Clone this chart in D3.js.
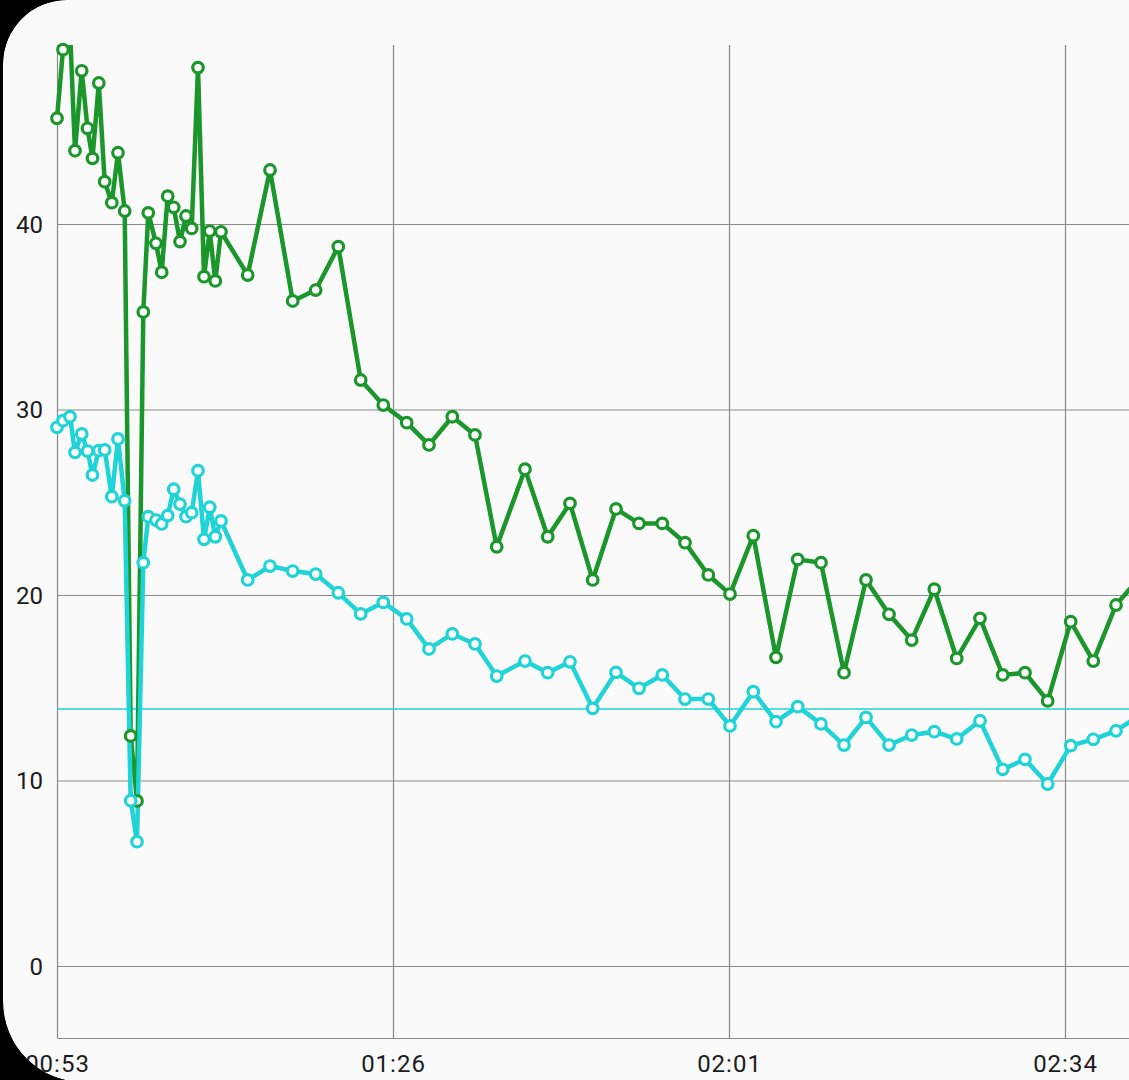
<!DOCTYPE html>
<html>
<head>
<meta charset="utf-8">
<script src="https://cdn.jsdelivr.net/npm/d3@7/dist/d3.min.js"></script>
<style>
  html, body { margin: 0; padding: 0; background: #000; overflow: hidden; }
  svg { display: block; }
  text { font-family: Roboto, "Noto Sans", sans-serif; }
</style>
</head>
<body>
<svg id="chart" width="1129" height="1080"></svg>
<script>
// ---- data (minutes since 00:53) ----
const times = [0, 0.6, 1.3, 1.8, 2.47, 3.05, 3.55, 4.18, 4.77, 5.48, 6.1, 6.77, 7.37, 8.0, 8.63, 9.13,
  9.9, 10.47, 11.07, 11.67, 12.3, 12.9, 13.47, 14.1, 14.7, 15.27, 15.83, 16.4, 19.07, 21.3, 23.57,
  25.87, 28.13, 30.37, 32.63, 34.97, 37.2, 39.53, 41.8, 43.97, 46.8, 49.07, 51.3, 53.57, 55.9, 58.2,
  60.53, 62.8, 65.13, 67.3, 69.63, 71.9, 74.07, 76.4, 78.7, 80.9, 83.2, 85.47, 87.73, 89.97, 92.3,
  94.57, 96.8, 99.07, 101.37, 103.63, 105.9, 108.2];

const greenValues = [45.7, 49.4, 50.5, 43.95, 48.26, 45.16, 43.54, 47.6, 42.28, 41.15, 43.84, 40.7,
  12.4, 8.9, 35.26, 40.6, 38.96, 37.4, 41.5, 40.9, 39.05, 40.43, 39.76, 48.43, 37.16, 39.62, 36.93,
  39.58, 37.25, 42.91, 35.85, 36.44, 38.78, 31.59, 30.24, 29.29, 28.09, 29.61, 28.63, 22.6, 26.78,
  23.14, 24.94, 20.81, 24.64, 23.86, 23.86, 22.82, 21.08, 20.05, 23.2, 16.64, 21.92, 21.74, 15.81,
  20.81, 18.96, 17.57, 20.31, 16.58, 18.74, 15.69, 15.81, 14.29, 18.56, 16.44, 19.46, 20.9];

const cyanValues = [29.04, 29.4, 29.61, 27.69, 28.68, 27.76, 26.47, 27.78, 27.82, 25.3, 28.41, 25.08,
  8.91, 6.7, 21.74, 24.22, 24.04, 23.83, 24.28, 25.7, 24.9, 24.22, 24.44, 26.7, 23.0, 24.73, 23.14,
  23.99, 20.81, 21.56, 21.29, 21.13, 20.12, 18.98, 19.6, 18.71, 17.09, 17.9, 17.36, 15.63, 16.44,
  15.81, 16.4, 13.89, 15.83, 14.97, 15.69, 14.39, 14.39, 12.94, 14.79, 13.17, 13.98, 13.05, 11.91,
  13.4, 11.91, 12.45, 12.63, 12.24, 13.22, 10.6, 11.14, 9.81, 11.88, 12.22, 12.68, 13.5];

const referenceValue = 13.85;

const yTicks = [0, 10, 20, 30, 40];
const xTickValues = [0, 33.6, 67.2, 100.8];
const xTickLabels = ["00:53", "01:26", "02:01", "02:34"];

// ---- layout ----
const W = 1129, H = 1080;
const plotLeft = 57, plotTop = 45, plotBottom = 1038, plotRight = 1157;
const GREEN = "#1a962b", CYAN = "#1fd3d6", GRID = "#8a8a8a";

const svg = d3.select("#chart");

// black page + light panel with rounded left corners
svg.append("rect").attr("width", W).attr("height", H).attr("fill", "#000");
svg.append("path")
  .attr("d", "M3,64 A64,64 0 0 1 67,0 L1200,0 L1200,1090 L83,1090 L83,1082 A80,80 0 0 1 3,1002 Z")
  .attr("fill", "#fafafa");

const x = d3.scaleLinear().domain([0, 110]).range([plotLeft, plotRight]);
const y = d3.scaleLinear().domain([0, 40]).range([966, 224]);

// y grid + labels
const yAxis = d3.axisLeft(y).tickValues(yTicks).tickSize(-(plotRight - plotLeft)).tickPadding(14).tickFormat(d3.format("d"));
const gy = svg.append("g").attr("transform", `translate(${plotLeft},0)`).call(yAxis);
gy.select(".domain").remove();
gy.selectAll(".tick line").attr("stroke", GRID).attr("stroke-width", 1.2);
gy.selectAll(".tick text").attr("fill", "#1c1c1c").attr("font-size", 24).attr("dy", "0.35em");

// x grid + labels
const xAxis = d3.axisBottom(x).tickValues(xTickValues).tickSize(-(plotBottom - plotTop)).tickSizeOuter(0)
  .tickPadding(17).tickFormat((d, i) => xTickLabels[i]);
const gx = svg.append("g").attr("transform", `translate(0,${plotBottom})`).call(xAxis);
gx.select(".domain").attr("stroke", GRID).attr("stroke-width", 1.2);
gx.selectAll(".tick line").attr("stroke", GRID).attr("stroke-width", 1.2);
gx.selectAll(".tick text").attr("fill", "#1c1c1c").attr("font-size", 24).attr("letter-spacing", 1);

// clips: lines clipped at plot top, markers slightly looser
svg.append("clipPath").attr("id", "lineclip")
  .append("rect").attr("x", plotLeft - 10).attr("y", plotTop).attr("width", plotRight - plotLeft + 20).attr("height", plotBottom - plotTop);
svg.append("clipPath").attr("id", "dotclip")
  .append("rect").attr("x", plotLeft - 10).attr("y", plotTop - 5).attr("width", plotRight - plotLeft + 20).attr("height", plotBottom - plotTop + 5);

const plot = svg.append("g").attr("clip-path", "url(#lineclip)");
const dotLayer = svg.append("g").attr("clip-path", "url(#dotclip)");

// reference line
plot.append("line")
  .attr("x1", plotLeft).attr("x2", plotRight)
  .attr("y1", y(referenceValue)).attr("y2", y(referenceValue))
  .attr("stroke", CYAN).attr("stroke-width", 1.5);

const greenData = times.map((t, i) => ({ t, v: greenValues[i] }));
const cyanData = times.map((t, i) => ({ t, v: cyanValues[i] }));

const line = d3.line().x(d => x(d.t)).y(d => y(d.v));

plot.append("path").datum(greenData).attr("d", line)
  .attr("fill", "none").attr("stroke", GREEN).attr("stroke-width", 4.5).attr("stroke-linejoin", "round");
plot.append("path").datum(cyanData).attr("d", line)
  .attr("fill", "none").attr("stroke", CYAN).attr("stroke-width", 4.5).attr("stroke-linejoin", "round");

function dots(data, color) {
  dotLayer.append("g").selectAll("circle").data(data).join("circle")
    .attr("cx", d => x(d.t)).attr("cy", d => y(d.v)).attr("r", 5.3)
    .attr("fill", "#ffffff").attr("stroke", color).attr("stroke-width", 3.2);
}
dots(greenData, GREEN);
dots(cyanData, CYAN);

// black corner overlay (covers part of the first label)
svg.append("path")
  .attr("d", "M0,0 L67,0 A64,64 0 0 0 3,64 L3,1002 A80,80 0 0 0 83,1082 L0,1082 Z")
  .attr("fill", "#000");
</script>
</body>
</html>
